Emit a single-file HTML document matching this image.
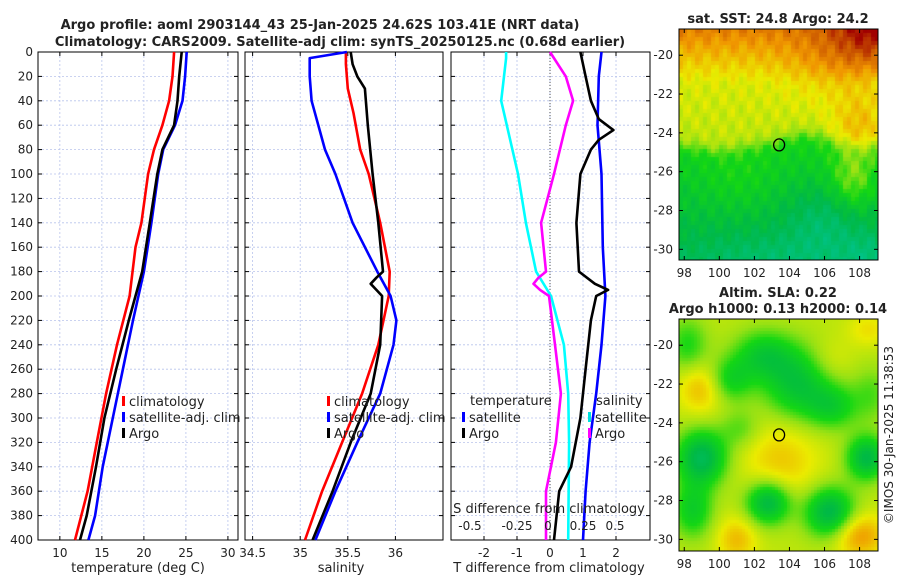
<!DOCTYPE html>
<html><head><meta charset="utf-8">
<style>
body{margin:0;background:#fff;font-family:"Liberation Sans","DejaVu Sans",sans-serif;}
#wrap{position:relative;width:900px;height:580px;overflow:hidden;}
svg text{font-family:"DejaVu Sans","Liberation Sans",sans-serif;}
canvas{position:absolute;}
</style></head>
<body>
<div id="wrap">
<canvas id="sst" width="199" height="231" style="left:679px;top:29px"></canvas>
<canvas id="sla" width="199" height="232" style="left:679px;top:319px"></canvas>
<svg id="svg" width="900" height="580" style="position:absolute;left:0;top:0"></svg>
</div>
<script>
// ---------- data ----------
const depthTicks=[0,20,40,60,80,100,120,140,160,180,200,220,240,260,280,300,320,340,360,380,400];
const tempTicks=[10,15,20,25,30];
const salTicks=[34.5,35,35.5,36];
const salTickLabels=["34.5","35","35.5","36"];
const tdiffTicks=[-2,-1,0,1,2];
const sdiffLabels=["-0.5","-0.25","0","0.25","0.5"];
const sdiffTickVals=[-0.5,-0.25,0,0.25,0.5];

const tClimDepth=[0,20,40,60,80,100,140,160,200,240,280,320,360,400];
const tClimVal=[23.6,23.4,23.0,22.2,21.2,20.5,19.7,19.0,18.3,16.8,15.5,14.4,13.3,11.8];
const tSatDepth=[0,20,40,60,80,100,140,180,220,260,300,340,380,400];
const tSatVal=[25.1,24.9,24.6,23.7,22.3,21.7,20.9,20.0,18.7,17.5,16.3,15.1,14.2,13.4];
const tArgoDepth=[0,20,40,60,80,100,140,180,220,260,300,340,380,400];
const tArgoVal=[24.5,24.2,24.0,23.6,22.2,21.6,20.7,19.8,18.2,16.7,15.3,14.3,13.2,12.4];

const sClimDepth=[0,10,30,50,80,100,140,180,200,240,280,320,360,400];
const sClimVal=[35.48,35.48,35.5,35.56,35.63,35.72,35.84,35.94,35.93,35.82,35.65,35.44,35.23,35.05];
const sSatDepth=[0,5,20,40,60,80,100,140,180,200,220,240,280,320,360,400];
const sSatVal=[35.49,35.1,35.1,35.12,35.19,35.26,35.37,35.55,35.81,35.95,36.01,35.98,35.84,35.6,35.37,35.16];
const sArgoDepth=[0,10,20,30,60,100,140,180,185,190,195,200,240,280,320,360,400];
const sArgoVal=[35.53,35.55,35.6,35.68,35.71,35.76,35.82,35.87,35.8,35.74,35.8,35.86,35.84,35.74,35.53,35.34,35.13];

const dTSatDepth=[0,5,40,100,140,180,200,240,280,320,400];
const dTSatVal=[-1.33,-1.33,-1.48,-0.97,-0.73,-0.42,0.03,0.42,0.55,0.58,0.55];
const dTArgoDepth=[0,20,40,60,100,140,180,185,190,195,200,240,280,320,360,400];
const dTArgoVal=[0,0.48,0.7,0.48,0.12,-0.27,-0.12,-0.35,-0.5,-0.3,-0.03,0.15,0.33,0.18,-0.12,-0.12];
const dSSatDepth=[0,20,60,100,160,200,240,280,320,360,400];
const dSSatVal=[0.39,0.37,0.36,0.39,0.40,0.42,0.39,0.35,0.30,0.27,0.25];
const dSArgoDepth=[0,20,40,55,64,72,80,100,140,180,190,195,200,220,260,300,340,360,400];
const dSArgoVal=[0.23,0.27,0.31,0.37,0.48,0.37,0.31,0.23,0.20,0.22,0.34,0.44,0.35,0.31,0.27,0.23,0.16,0.07,0.03];

// ---------- geometry ----------
const NS="http://www.w3.org/2000/svg";
const svg=document.getElementById('svg');
const Y0=52,Y1=540;
function yD(d){return Y0+(d/400)*(Y1-Y0);}
const panels=[
 {x0:38,x1:238,min:7.4,max:31.2},
 {x0:245,x1:443,min:34.42,max:36.5},
 {x0:451,x1:650,min:-3,max:3.03}
];
function xP(p,v){const P=panels[p];return P.x0+(v-P.min)/(P.max-P.min)*(P.x1-P.x0);}
function xS(v){return xP(2,v*4);}
function el(tag,attrs,parent){const e=document.createElementNS(NS,tag);for(const k in attrs)e.setAttribute(k,attrs[k]);(parent||svg).appendChild(e);return e;}
function txt(s,x,y,size,anchor,weight,name){const t=el('text',{x:x,y:y,'font-size':size,'text-anchor':anchor||'start','font-weight':weight||'normal',fill:'#222'});t.textContent=s;


return t;}

panels.forEach((P,i)=>{
  const g=el('g',{});
  
  
  depthTicks.forEach(d=>{const l=el('line',{x1:P.x0,x2:P.x1,y1:yD(d),y2:yD(d),stroke:'#b8c4ec','stroke-width':0.8,'stroke-dasharray':'2,2'},g);
    
    
    el('line',{x1:P.x0,x2:P.x0+4,y1:yD(d),y2:yD(d),stroke:'#000'},g);
    el('line',{x1:P.x1,x2:P.x1-4,y1:yD(d),y2:yD(d),stroke:'#000'},g);
  });
  const xt=i==0?tempTicks:i==1?salTicks:tdiffTicks;
  xt.forEach((v,j)=>{const x=xP(i,v);
    const l=el('line',{x1:x,x2:x,y1:Y0,y2:Y1,stroke:'#b8c4ec','stroke-width':0.8,'stroke-dasharray':'2,2'},g);
    
    
    el('line',{x1:x,x2:x,y1:Y1,y2:Y1-4,stroke:'#000'},g);
    el('line',{x1:x,x2:x,y1:Y0,y2:Y0+4,stroke:'#000'},g);
    txt(i==1?salTickLabels[j]:String(v),x,557,12,'middle','normal','x-tick-label');
  });
  const r=el('rect',{x:P.x0,y:Y0,width:P.x1-P.x0,height:Y1-Y0,fill:'none',stroke:'#000','stroke-width':1},g);
  
  
});
depthTicks.forEach(d=>txt(String(d),33,yD(d)+4,12,'end','normal','y-tick-label'));
const z=el('line',{x1:xP(2,0),x2:xP(2,0),y1:Y0,y2:Y1,stroke:'#555','stroke-width':1,'stroke-dasharray':'1,2'});



function line(p,depths,vals,color,name,conv){
  const pts=depths.map((d,k)=>(conv?conv(vals[k]):xP(p,vals[k])).toFixed(1)+','+yD(d).toFixed(1)).join(' ');
  const pl=el('polyline',{points:pts,fill:'none',stroke:color,'stroke-width':2.6,'stroke-linejoin':'round'});
  
  
}
line(0,tClimDepth,tClimVal,'#ff0000','temp-climatology-line');
line(0,tSatDepth,tSatVal,'#0000ff','temp-satellite-line');
line(0,tArgoDepth,tArgoVal,'#000','temp-argo-line');
line(1,sClimDepth,sClimVal,'#ff0000','sal-climatology-line');
line(1,sSatDepth,sSatVal,'#0000ff','sal-satellite-line');
line(1,sArgoDepth,sArgoVal,'#000','sal-argo-line');
line(2,dTSatDepth,dTSatVal,'#00ffff','tdiff-satellite-line');
line(2,dTArgoDepth,dTArgoVal,'#ff00ff','tdiff-argo-line');
line(2,dSSatDepth,dSSatVal,'#0000ff','sdiff-satellite-line',xS);
line(2,dSArgoDepth,dSArgoVal,'#000','sdiff-argo-line',xS);

sdiffTickVals.forEach((v,j)=>txt(sdiffLabels[j],[470,517,548,583,615][j],530,12,'middle','normal','s-diff-tick-label'));
txt('S difference from climatology',549,513,13,'middle','normal','s-diff-axis-title');

function leg(x,y,color,label,name){
  const r=el('rect',{x:x,y:y-10,width:3,height:10,fill:color});
  
  
  txt(label,x+7,y,13,'start','normal',name);
}
leg(122,406,'#ff0000','climatology','legend-climatology');
leg(122,422,'#0000ff','satellite-adj. clim','legend-satellite');
leg(122,438,'#000','Argo','legend-argo');
leg(327,406,'#ff0000','climatology','legend2-climatology');
leg(327,422,'#0000ff','satellite-adj. clim','legend2-satellite');
leg(327,438,'#000','Argo','legend2-argo');
txt('temperature',470,405,13,'start','normal','legend-temperature-title');
leg(462,422,'#0000ff','satellite','legend3-satellite');
leg(462,438,'#000','Argo','legend3-argo');
txt('salinity',596,405,13,'start','normal','legend-salinity-title');
leg(588,422,'#00e0e0','satellite','legend4-satellite');
leg(588,438,'#ff00ff','Argo','legend4-argo');

txt('temperature (deg C)',138,572,13,'middle','normal','temperature-axis-title');
txt('salinity',341,572,13,'middle','normal','salinity-axis-title');
txt('T difference from climatology',549,572,13,'middle','normal','t-diff-axis-title');
txt('Argo profile: aoml 2903144_43 25-Jan-2025 24.62S 103.41E (NRT data)',320,29,13,'middle','bold','chart-title-line1');
txt('Climatology: CARS2009. Satellite-adj clim: synTS_20250125.nc (0.68d earlier)',340,46,13,'middle','bold','chart-title-line2');

// ---------- maps ----------
const mapLon=[98,100,102,104,106,108];
const mapLat=[-20,-22,-24,-26,-28,-30];
const argoLon=103.41, argoLat=-24.62;
function mapAxes(x0,y0,w,h,latTop,latBot,name){
  const lonMin=97.7,lonMax=109.05;
  const X=v=>x0+(v-lonMin)/(lonMax-lonMin)*w;
  const Y=v=>y0+(latTop-v)/(latTop-latBot)*h;
  const r=el('rect',{x:x0,y:y0,width:w,height:h,fill:'none',stroke:'#000'});
  
  
  mapLon.forEach(v=>{el('line',{x1:X(v),x2:X(v),y1:y0+h,y2:y0+h-4,stroke:'#000'});el('line',{x1:X(v),x2:X(v),y1:y0,y2:y0+4,stroke:'#000'});txt(String(v),X(v),y0+h+17,12,'middle','normal','lon-tick-label');});
  mapLat.forEach(v=>{el('line',{x1:x0,x2:x0+4,y1:Y(v),y2:Y(v),stroke:'#000'});el('line',{x1:x0+w,x2:x0+w-4,y1:Y(v),y2:Y(v),stroke:'#000'});txt(String(v),x0-6,Y(v)+4,12,'end','normal','lat-tick-label');});
  const c=el('ellipse',{cx:X(argoLon),cy:Y(argoLat),rx:5.5,ry:6,fill:'none',stroke:'#000','stroke-width':1.3});
  
  
}
mapAxes(679,29,199,231,-18.65,-30.55,'sst-map');
mapAxes(679,319,199,232,-18.65,-30.6,'sla-map');
txt('sat. SST: 24.8 Argo: 24.2',778,23,13,'middle','bold','sst-map-title');
txt('Altim. SLA: 0.22',778,297,13,'middle','bold','sla-map-title');
txt('Argo h1000: 0.13 h2000: 0.14',778,313,13,'middle','bold','sla-map-subtitle');
const cr=txt('©IMOS 30-Jan-2025 11:38:53',0,0,12,'middle','normal','copyright-timestamp');
cr.setAttribute('transform','translate(893,435) rotate(-90)');

const cstops=[[0,[0,205,205]],[0.3,[0,185,70]],[0.45,[20,215,20]],[0.55,[150,225,20]],[0.66,[235,235,0]],[0.8,[240,150,0]],[0.9,[205,90,0]],[1,[160,0,0]]];
function cmap(v){v=Math.max(0,Math.min(1,v));for(let i=1;i<cstops.length;i++){if(v<=cstops[i][0]){const a=cstops[i-1],b=cstops[i],t=(v-a[0])/(b[0]-a[0]);return a[1].map((c,k)=>Math.round(c+(b[1][k]-c)*t));}}return cstops[cstops.length-1][1];}
function g2(lon,lat,cx,cy,sx,sy){return Math.exp(-((lon-cx)**2/(2*sx*sx)+(lat-cy)**2/(2*sy*sy)));}
function sstField(lon,lat){
  const b=-24.6+0.6*g2(lon,0,105,0,1.2,1)-0.3*g2(lon,0,100,0,1,1);
  const t=0.5+0.5*Math.tanh((lat-b)/0.45);
  const north=0.6+Math.max(0,lat+21.5)*0.06+(lat+24.5)*0.012;
  const south=0.43+(lat+24.5)*0.025;
  let v=south+(north-south)*t;
  v+=0.05*g2(lon,lat,101,-26.5,1.5,1.2);
  v+=0.15*g2(lon,lat,108.8,-18.8,1.6,1.5)+0.08*g2(lon,lat,106.5,-20.5,2,1.3)+0.12*g2(lon,lat,108,-23.7,1.1,1.1)+0.15*g2(lon,lat,107.6,-26.5,0.9,1.1);
  v-=0.1*g2(lon,lat,106,-28.5,1.5,1.3)+0.06*g2(lon,lat,103,-30.5,3,1)+0.08*g2(lon,lat,108.5,-30.5,1,1);
  v+=0.02*Math.sin(lon*5.1+lat*3.7)+0.02*Math.cos(lon*7.3-lat*4.1);
  return Math.min(v,1);
}
const slaBlobs=[[102.5,-20.5,1.2,0.9,-0.2],[104.5,-22,1.4,1.3,-0.25],[100.6,-21.8,0.9,0.8,-0.18],[98.2,-20,0.8,1,-0.15],
 [99,-25.8,1,1,-0.33],[102.8,-28.1,0.9,0.8,-0.32],[106.3,-28.6,1,0.9,-0.32],[108.4,-25.8,0.8,0.8,-0.3],
 [99,-22.2,0.9,0.9,0.15],[103.5,-26,1.5,1.5,0.12],[108,-29.8,1,0.8,0.2],[101,-30,0.8,0.8,0.14],[106.3,-20.8,0.9,0.8,0.06],
 [98.5,-28.5,0.8,1,-0.2],[106.5,-23.2,1,0.8,-0.17],[108.7,-22.5,0.8,1,-0.1],[101.2,-24.3,0.8,0.7,-0.1],[108.5,-19.2,0.8,0.6,0.08]];
function slaField(lon,lat){let v=0.6;slaBlobs.forEach(b=>v+=b[4]*g2(lon,lat,b[0],b[1],b[2],b[3]));return v;}
function drawMap(id,field,latTop,latBot,cell){
  const c=document.getElementById(id),ctx=c.getContext('2d'),W=c.width,H=c.height;
  for(let y=0;y<H;y+=cell)for(let x=0;x<W;x+=cell){
    const lon=97.7+(x+cell/2)/W*(109.05-97.7),lat=latTop-(y+cell/2)/H*(latTop-latBot);
    const col=cmap(field(lon,lat));ctx.fillStyle='rgb('+col.join(',')+')';ctx.fillRect(x,y,cell,cell);
  }
}
drawMap('sst',sstField,-18.65,-30.55,4);
drawMap('sla',slaField,-18.65,-30.6,3);
</script>
</body></html>
